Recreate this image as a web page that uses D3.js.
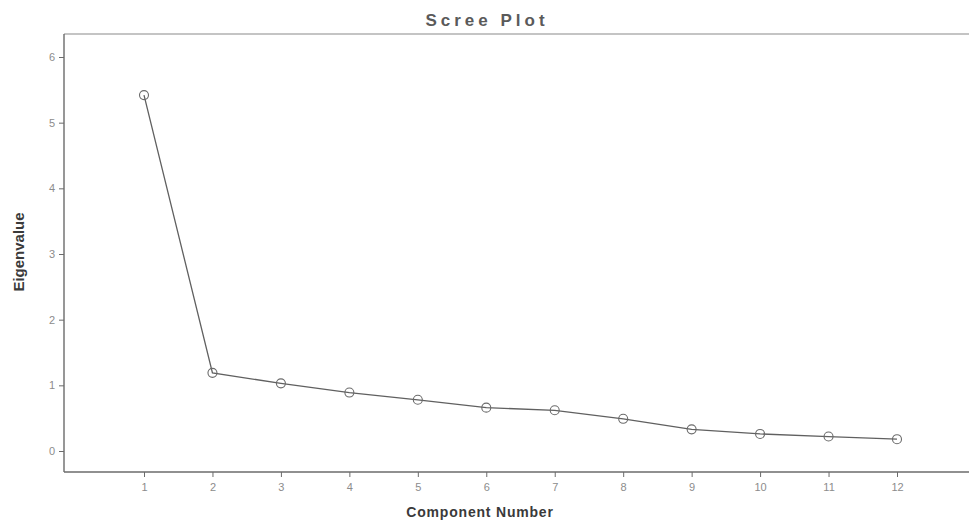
<!DOCTYPE html>
<html>
<head>
<meta charset="utf-8">
<script src="https://cdn.jsdelivr.net/npm/d3@7"></script>
<style>
  body { margin: 0; background: #fff; }
  svg { display: block; font-family: Arial, "Liberation Sans", sans-serif; }
</style>
</head>
<body>
<div id="scree"></div>
<script>
// Scree plot: eigenvalue by component number
const components = [1, 2, 3, 4, 5, 6, 7, 8, 9, 10, 11, 12];
const eigenvalues = [5.42, 1.19, 1.03, 0.89, 0.78, 0.66, 0.62, 0.49, 0.33, 0.26, 0.22, 0.18];
const yTicks = [0, 1, 2, 3, 4, 5, 6];

const W = 969, H = 521;
const frame = {left: 64, top: 34, right: 1000, bottom: 472};

const svg = d3.select("#scree").append("svg")
  .attr("width", W).attr("height", H);

const x = d3.scaleLinear().domain([1, 12]).range([144, 897]);
const y = d3.scaleLinear().domain([0, 6]).range([451, 57]);

const lineCol = "#6b6b6b";

// frame: top and left/bottom axis lines (plot runs off the right edge)
svg.append("line").attr("x1", frame.left).attr("x2", frame.right)
  .attr("y1", frame.top).attr("y2", frame.top)
  .attr("stroke", "#8a8a8a").attr("stroke-width", 1.2);

const yAxis = svg.append("g").attr("transform", `translate(${frame.left},0)`)
  .call(d3.axisLeft(y).tickValues(yTicks).tickSize(5).tickPadding(4).tickFormat(d3.format("d")));
yAxis.select(".domain").remove();
svg.append("line").attr("x1", frame.left).attr("x2", frame.left)
  .attr("y1", frame.top).attr("y2", frame.bottom)
  .attr("stroke", lineCol).attr("stroke-width", 1.4);

const xAxis = svg.append("g").attr("transform", `translate(0,${frame.bottom})`)
  .call(d3.axisBottom(x).tickValues(components).tickSize(5).tickPadding(6).tickFormat(d3.format("d")));
xAxis.select(".domain").remove();
svg.append("line").attr("x1", frame.left).attr("x2", frame.right)
  .attr("y1", frame.bottom).attr("y2", frame.bottom)
  .attr("stroke", lineCol).attr("stroke-width", 1.4);

svg.selectAll(".tick line").attr("stroke", lineCol);
svg.selectAll(".tick text").attr("fill", "#8c8c8c").style("font-size", "11px");

// line + hollow circle markers
svg.append("path").datum(components.map((c, i) => [c, eigenvalues[i]]))
  .attr("fill", "none").attr("stroke", "#606060").attr("stroke-width", 1.3)
  .attr("d", d3.line().x(d => x(d[0])).y(d => y(d[1])));

svg.selectAll("circle.pt").data(eigenvalues).join("circle")
  .attr("class", "pt")
  .attr("cx", (d, i) => x(components[i])).attr("cy", d => y(d))
  .attr("r", 4.5).attr("fill", "none").attr("stroke", "#6a6a6a").attr("stroke-width", 1.1);

// titles
svg.append("text").attr("x", 487).attr("y", 26).attr("text-anchor", "middle")
  .style("font-size", "17px").style("font-weight", "bold").style("letter-spacing", "4px")
  .attr("fill", "#5a5a5a").text("Scree Plot");

svg.append("text").attr("x", 480).attr("y", 517).attr("text-anchor", "middle")
  .style("font-size", "14px").style("font-weight", "bold").style("letter-spacing", "0.8px")
  .attr("fill", "#3a3a3a").text("Component Number");

svg.append("text").attr("transform", "translate(24,252) rotate(-90)")
  .attr("text-anchor", "middle")
  .style("font-size", "15px").style("font-weight", "bold")
  .attr("fill", "#3a3a3a").text("Eigenvalue");
</script>
</body>
</html>
